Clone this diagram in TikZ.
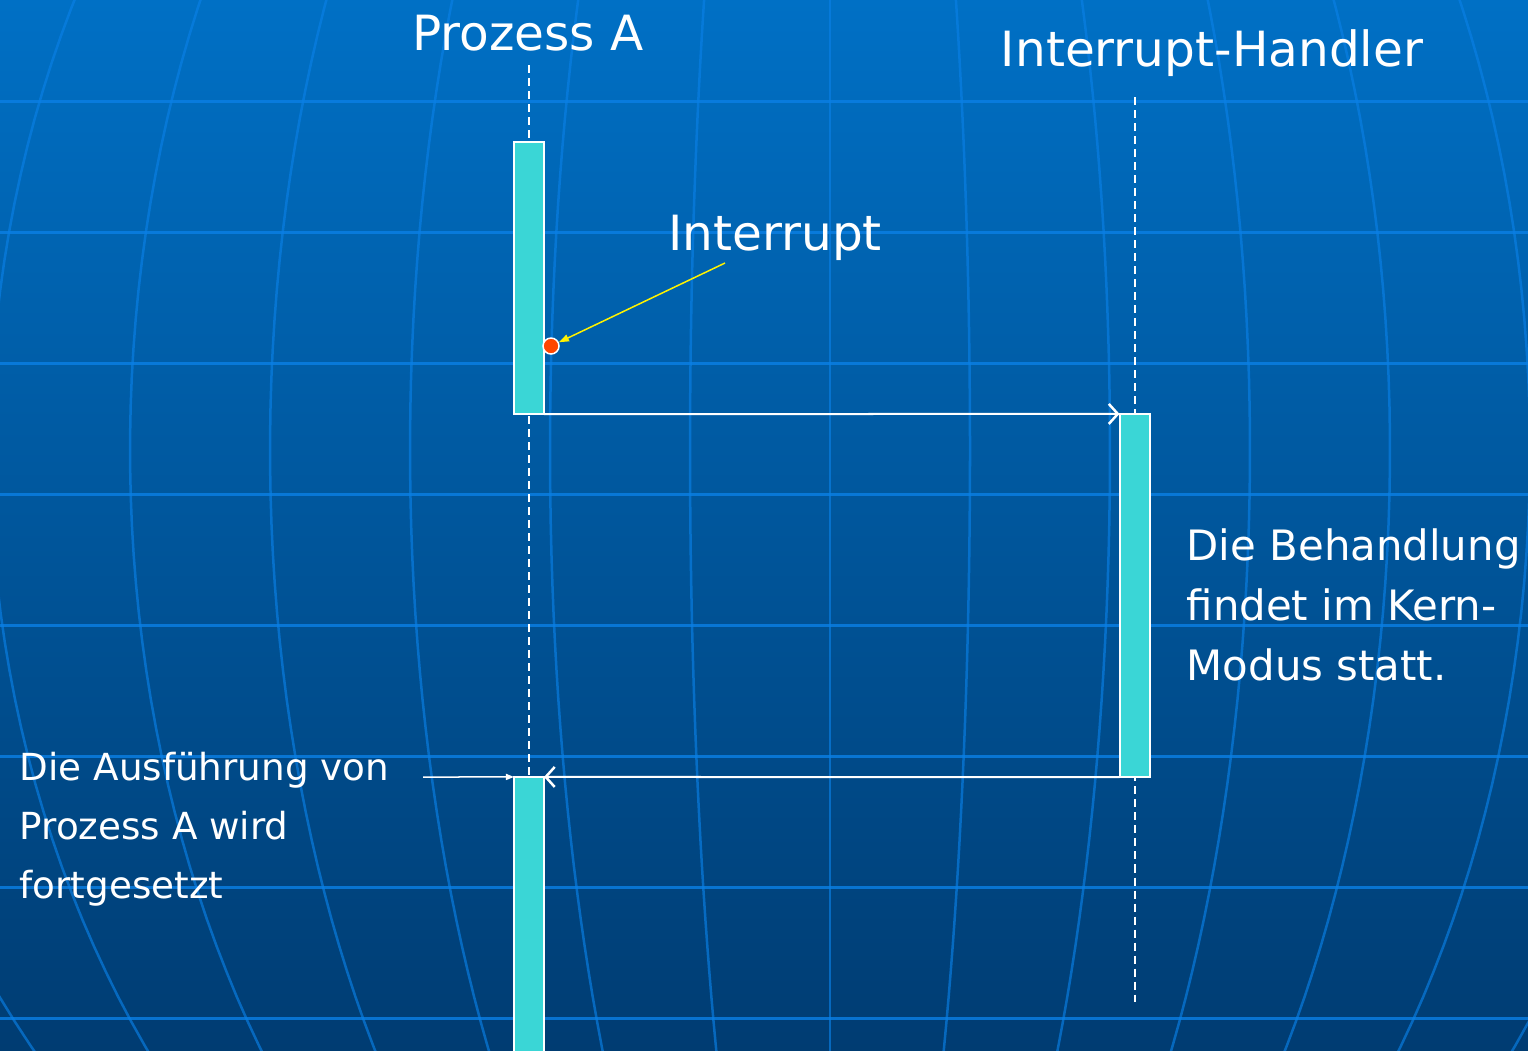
\documentclass[tikz,border=0pt]{standalone}
\usepackage{fontspec}
\setmainfont{DejaVu Sans}
\usepackage{tikz}
\usetikzlibrary{arrows.meta}
\usepackage{xcolor}
\definecolor{bgtop}{RGB}{0,112,197}
\definecolor{bgbot}{RGB}{0,60,114}
\definecolor{globe}{RGB}{10,128,230}
\definecolor{barcyan}{RGB}{58,214,214}
\definecolor{dotred}{RGB}{255,70,0}
\tikzset{
	gridline/.style={globe,line width=0.03cm,opacity=0.8},
	meridian/.style={globe,line width=0.025cm,opacity=0.65},
	bar/.style={draw=white,line width=0.02cm,fill=barcyan,minimum width=0.3cm,inner sep=0pt,outer sep=0pt},
	life/.style={white,line width=0.022cm,dash pattern=on 0.08cm off 0.05cm},
	msg/.style={white,line width=0.02cm,-{Straight Barb[length=0.09cm,width=0.2cm,line width=0.025cm]}},
	title/.style={white,font=\fontsize{13.8}{16}\selectfont,inner sep=0pt,anchor=base},
	note/.style={white,font=\fontsize{11.9}{17}\selectfont,inner sep=0pt,anchor=base west,align=left},
	smallnote/.style={note,font=\fontsize{10.6}{16.7}\selectfont},
}

\begin{document}
\begin{tikzpicture}[x=0.01cm,y=-0.01cm]
			\useasboundingbox (0,0) rectangle (1528,1050);
			\clip (0,0) rectangle (1528,1050);
			\shade[top color=bgtop,bottom color=bgbot] (0,0) rectangle (1528,1050);
			\foreach \Ligne in {101,232,...,1018}
			\draw[gridline] (0,\Ligne) -- (1528,\Ligne);
			\foreach \Meridien in {-7,...,7}
			\draw[meridian] plot[domain=-27:37,samples=40,variable=\t] ({830+140*\Meridien*cos(\t)},{450+1030*sin(\t)});
			\coordinate[] (pa top) at (529,65);
			\coordinate[] (pa end) at (529,777);
			\coordinate[] (ih top) at (1135,97);
			\coordinate[] (ih end) at (1135,1002);
			\coordinate[] (src) at (423,777);
			\coordinate[] (ptr) at (725,263);
			\draw[life] (pa top) -- (pa end);
			\draw[life] (ih top) -- (ih end);
			\node[bar,minimum height=2.72cm] (a1) at (529,278) {};
			\node[bar,minimum height=2.9cm] (a2) at (529,922) {};
			\node[bar,minimum height=3.63cm] (h) at (1134.5,595.5) {};
			\node[circle,draw=white,line width=0.015cm,fill=dotred,minimum size=0.16cm,inner sep=0pt] (irq) at (551,346) {};
			\node[title] (pa) at (528,50) {Prozess A};
			\node[title] (ih) at (1212,66) {Interrupt-Handler};
			\node[title] (it) at (775,250) {Interrupt};
			\node[note] (beh) at (1186,680) {Die Behandlung\\findet im Kern-\\Modus statt.};
			\node[smallnote] (aus) at (19,898) {Die Ausführung von\\Prozess A wird\\fortgesetzt};
			\draw[msg] (a1.south east) -- (h.north west);
			\draw[msg] (h.south west) -- (a2.north east);
			\draw[white,line width=0.015cm,-{Triangle[length=0.08cm,width=0.06cm]}] (src) -- (a2.north west);
			\draw[yellow,line width=0.015cm,-{Triangle[length=0.1cm,width=0.07cm]}] (ptr) -- (irq);
		\end{tikzpicture}
\end{document}
